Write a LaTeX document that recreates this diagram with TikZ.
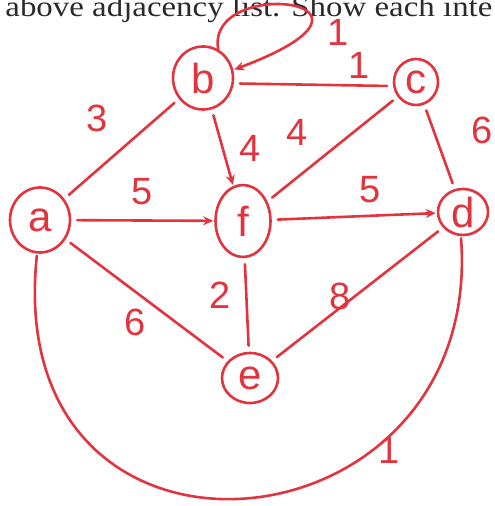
\documentclass[tikz,border=0pt]{standalone}
\usepackage{fontspec}
\setmainfont{Liberation Serif}
\newfontfamily\handfont{Liberation Sans}
\usetikzlibrary{arrows.meta,shapes.geometric}
\definecolor{pen}{HTML}{E2343F}
\definecolor{printtext}{HTML}{2A2A2A}
\tikzset{
  vert/.style={ellipse,draw=pen,line width=1.3pt,text=pen,inner sep=0pt,
    font=\handfont\fontsize{21}{21}\selectfont},
  edge/.style={draw=pen,line width=1.3pt,line cap=round,shorten <=3pt,shorten >=3pt},
  tip/.style={-{Stealth[length=5pt,width=4.5pt]},shorten >=0.5pt},
  wt/.style={text=pen,font=\handfont\fontsize{19}{19}\selectfont}
}
\begin{document}
\begin{tikzpicture}[x=.5pt,y=-.5pt]
\useasboundingbox (0,0) rectangle (494,506);
\clip (0,0) rectangle (494,506);
\node[anchor=base west,inner sep=0pt,text=printtext] (head) at (5,16.5)
  {\resizebox{243.5pt}{10pt}{above adjacency list. Show each inte}};
\node[vert,minimum width=30pt,minimum height=31.5pt] (b) at (203,78) {b};
\node[vert,minimum width=22pt,minimum height=23pt] (c) at (416,82) {c};
\node[vert,minimum width=30pt,minimum height=32.5pt] (a) at (40,220) {a};
\node[vert,minimum width=27.5pt,minimum height=36pt] (f) at (243,221) {f};
\node[vert,minimum width=25pt,minimum height=23pt] (d) at (463,212) {d};
\node[vert,minimum width=28pt,minimum height=25pt] (e) at (250,378) {e};
\foreach \u/\v in {b/a,c/f,c/d,f/e,a/e,d/e}\draw[edge] (\u)--(\v);
\draw[edge] (b.-10)--(c.190);
\foreach \u/\v in {a/f,f/d,b/f}\draw[edge,tip] (\u)--(\v);
\draw[edge,tip,shorten <=0pt] (b.62) .. controls (205,-25) and (420,0) .. (b.15);
\draw[edge,shorten <=1pt,shorten >=1pt] (a.265) .. controls (0,605) and (485,560) .. (d.265);
\foreach \x/\y/\w [count=\i] in {338/32/1,359/65/1,97/118/3,250/148/4,297/132/4,482/130/6,
  142/192/5,370/190/5,220/295/2,135/322/6,340/296/8,389/450/1}
  \node[wt] (w\i) at (\x,\y){\w};
\end{tikzpicture}
\end{document}
